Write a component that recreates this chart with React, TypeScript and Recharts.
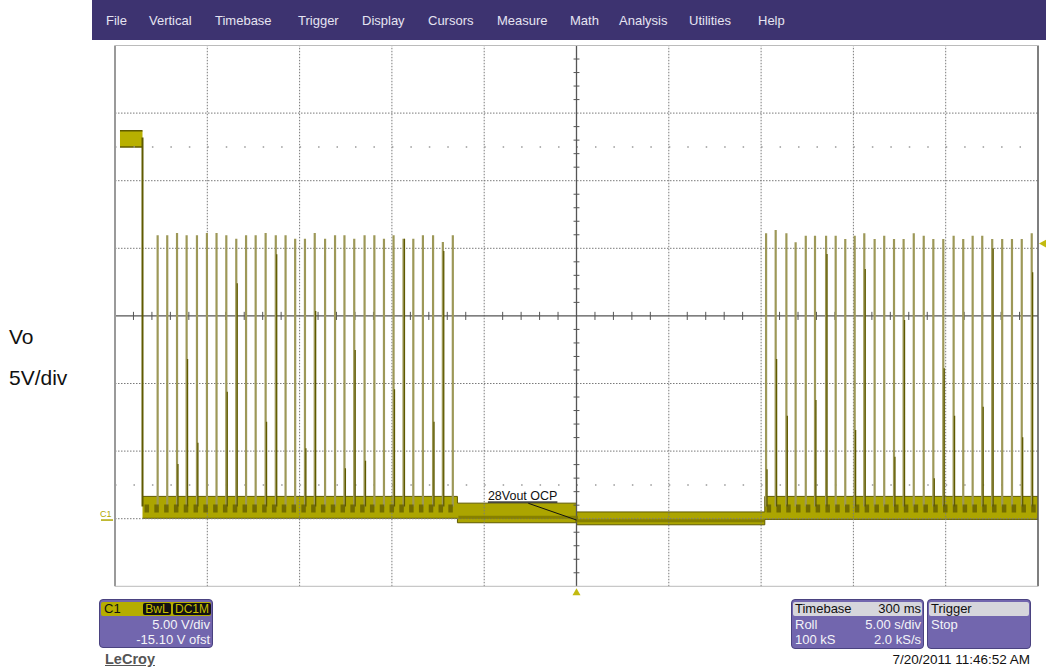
import React from 'react';
import { ComposedChart, Line, Area, XAxis, YAxis, ReferenceLine, ReferenceDot } from 'recharts';

// ---- scope settings (5 s/div, 5 V/div, -15.10 V offset) ----
const timeDomain = [0, 50];
const voltDomain = [-4.9, 35.1];
const gridTimes = [5, 10, 15, 20, 30, 35, 40, 45];
const gridVolts = [0.1, 5.1, 10.1, 20.1, 25.1, 30.1];
const centerTime = 25;
const centerVolt = 15.1;
const minorTimes = [1, 2, 3, 4, 6, 7, 8, 9, 11, 12, 13, 14, 16, 17, 18, 19, 21, 22, 23, 24, 26, 27, 28, 29, 31, 32, 33, 34, 36, 37, 38, 39, 41, 42, 43, 44, 46, 47, 48, 49];
const minorVolts = [-3.9, -2.9, -1.9, -0.9, 1.1, 2.1, 3.1, 4.1, 6.1, 7.1, 8.1, 9.1, 11.1, 12.1, 13.1, 14.1, 16.1, 17.1, 18.1, 19.1, 21.1, 22.1, 23.1, 24.1, 26.1, 27.1, 28.1, 29.1, 31.1, 32.1, 33.1, 34.1];
const dotRowVolts = [27.6, 2.6];

// ---- trace: initial 28 V level then drop ----
const highTimes = [0.27, 1.49];
const highLow = [27.6, 27.6];
const highHigh = [28.8, 28.8];
const dropTime = 1.49;
const dropFrom = 28.3;
const pulseBase = 1.0;

// ---- baseline noise band ----
const bandTimes = [1.49, 18.55, 18.55, 25.0, 25.0, 35.2, 35.2, 50];
const bandLow = [0.13, 0.13, -0.2, -0.2, -0.35, -0.35, 0.05, 0.05];
const bandHigh = [1.75, 1.75, 1.25, 1.25, 0.6, 0.6, 1.75, 1.75];
// darker ripple core inside the band (burst regions / OCP region)
const rippleTimes = [1.6, 18.5];
const rippleTimes2 = [35.3, 50];
const rippleLevel = 0.85;
const ocpCoreTimes = [18.6, 25.0, 25.0, 35.2];
const ocpCoreLevels = [0.2, 0.2, -0.05, -0.05];

// ---- hiccup pulses, first burst ----
const leftPulseTimes = [2.31, 2.83, 3.36, 3.88, 4.44, 4.98, 5.50, 6.03, 6.57, 7.10, 7.62, 8.16, 8.71, 9.24, 9.76, 10.29, 10.82, 11.38, 11.92, 12.43, 12.96, 13.52, 14.05, 14.57, 15.09, 15.63, 16.16, 16.68, 17.23, 17.76, 18.30];
const leftPulsePeaks = [21.06, 21.06, 21.23, 21.06, 21.06, 21.23, 21.23, 21.06, 20.81, 21.06, 21.06, 21.23, 21.06, 21.06, 20.81, 20.81, 21.23, 20.81, 21.06, 21.06, 20.81, 21.06, 21.06, 20.81, 21.06, 20.81, 20.81, 21.06, 21.06, 20.57, 21.06];
const leftDarkPeaks = [null, null, 4.15, 11.91, 5.72, null, null, 9.49, 17.51, null, null, 7.28, 19.66, null, null, 5.31, 15.46, null, null, 3.84, 12.58, 4.39, null, null, 9.67, 20.81, null, null, 7.28, 19.9, null];

// ---- hiccup pulses, second burst ----
const rightPulseTimes = [35.27, 35.79, 36.37, 36.87, 37.42, 37.92, 38.52, 39.04, 39.56, 40.07, 40.59, 41.15, 41.67, 42.20, 42.72, 43.27, 43.81, 44.33, 44.87, 45.43, 45.95, 46.46, 46.98, 47.52, 48.06, 48.59, 49.12, 49.66];
const rightPulsePeaks = [21.21, 21.45, 21.21, 20.54, 21.03, 21.03, 21.03, 21.03, 20.79, 21.03, 21.21, 20.79, 21.03, 20.79, 20.79, 21.21, 21.03, 20.79, 20.79, 21.03, 20.79, 21.03, 21.03, 20.79, 20.79, 20.79, 20.79, 21.21];
const rightDarkPeaks = [3.75, 11.91, 7.72, null, null, 8.88, 19.68, null, null, 6.66, 18.57, null, null, 4.69, 14.80, null, null, 3.09, 11.22, 7.72, null, null, 8.38, 20.1, null, null, 6.12, 18.32];

// ---- annotation / markers ----
const annotText = '28Vout OCP';
const annotAt = { t: 20.2, v: 1.45 };
const annotFrom = { t: 22.39, v: 1.24 };
const annotTo = { t: 25.0, v: 0.0 };
const triggerLevel = 20.45;
const groundLevel = 0;

const menuItems = ['File', 'Vertical', 'Timebase', 'Trigger', 'Display', 'Cursors', 'Measure', 'Math', 'Analysis', 'Utilities', 'Help'];
const menuX = [106, 149, 215, 298, 362, 428, 497, 570, 619, 689, 758];

const FONT = '"Liberation Sans", Arial, sans-serif';
const TRACE = '#aca500';
const TRACE_DARK = '#5f5a00';
const TRACE_LIGHT = '#9d9858';
const PURPLE_BAR = '#3d3370';
const PURPLE_BOX = '#7266ae';

type Pt = { t: number; v: number | null };

function spikes(times: number[], peaks: (number | null)[], shift: number): Pt[] {
  const out: Pt[] = [];
  times.forEach((t, i) => {
    const p = peaks[i];
    if (p == null) return;
    out.push({ t: t + shift, v: pulseBase }, { t: t + shift, v: p }, { t: t + shift, v: pulseBase }, { t: t + shift, v: null });
  });
  return out;
}

const lightData = [...spikes(leftPulseTimes, leftPulsePeaks, 0), ...spikes(rightPulseTimes, rightPulsePeaks, 0)];
const darkData = [...spikes(leftPulseTimes, leftDarkPeaks, 0.05), ...spikes(rightPulseTimes, rightDarkPeaks, 0.05)];
const bandData = bandTimes.map((t, i) => ({ t, r: [bandLow[i], bandHigh[i]] }));
const highData = highTimes.map((t, i) => ({ t, r: [highLow[i], highHigh[i]] }));
const dropData = [{ t: dropTime, v: dropFrom }, { t: dropTime, v: pulseBase }];
const rippleData = [
  ...rippleTimes.map((t) => ({ t, v: rippleLevel as number | null })),
  { t: rippleTimes[1], v: null },
  ...rippleTimes2.map((t) => ({ t, v: rippleLevel as number | null })),
];
const ocpCoreData = ocpCoreTimes.map((t, i) => ({ t, v: ocpCoreLevels[i] }));

const MARGIN = { top: 45.5, right: 8, bottom: 85.7, left: 115 };

const txt = (s: React.CSSProperties): React.CSSProperties => ({ position: 'absolute', fontFamily: FONT, whiteSpace: 'nowrap', ...s });

export default function App() {
  return (
    <div style={{ position: 'absolute', left: 0, top: 0, width: 1046, height: 672, background: '#fff', overflow: 'hidden' }}>
      {/* menu bar */}
      <div style={{ position: 'absolute', left: 92, top: 0, width: 954, height: 40, background: PURPLE_BAR }} />
      {menuItems.map((m, i) => (
        <div key={m} style={txt({ left: menuX[i], top: 13, fontSize: 13, color: '#e6e4f2' })}>{m}</div>
      ))}

      <div style={{ position: 'absolute', left: 0, top: 0 }}>
        <ComposedChart width={1046} height={672} margin={MARGIN}>
          <XAxis type="number" dataKey="t" domain={timeDomain} hide allowDataOverflow />
          <YAxis type="number" domain={voltDomain} hide width={0} allowDataOverflow />
          {gridTimes.map((t) => (
            <ReferenceLine key={'gx' + t} x={t} stroke="#7a7a7a" strokeDasharray="1.5 1.5" />
          ))}
          {gridVolts.map((v) => (
            <ReferenceLine key={'gy' + v} y={v} stroke="#7a7a7a" strokeDasharray="1.5 1.5" />
          ))}
          {dotRowVolts.map((v) => (
            <ReferenceLine key={'dr' + v} y={v} stroke="#999" strokeWidth={1.5} strokeDasharray="1.5 16.96" />
          ))}
          <ReferenceLine x={centerTime} stroke="#555" strokeWidth={1.3} />
          <ReferenceLine y={centerVolt} stroke="#555" strokeWidth={1.3} />
          {minorTimes.map((t) => (
            <ReferenceLine key={'mt' + t} segment={[{ x: t, y: centerVolt - 0.3 }, { x: t, y: centerVolt + 0.3 }]} stroke="#555" />
          ))}
          {minorVolts.map((v) => (
            <ReferenceLine key={'mv' + v} segment={[{ x: centerTime - 0.16, y: v }, { x: centerTime + 0.16, y: v }]} stroke="#555" />
          ))}
          <ReferenceLine x={timeDomain[0]} stroke="#9a9a9a" strokeWidth={2} />
          <ReferenceLine x={timeDomain[1]} stroke="#555" strokeWidth={1.5} />
          <ReferenceLine y={voltDomain[0]} stroke="#bbb" />
          <ReferenceLine y={voltDomain[1]} stroke="#bbb" />

          <Line data={lightData} dataKey="v" stroke={TRACE_LIGHT} strokeWidth={2.2} dot={false} isAnimationActive={false} connectNulls={false} />
          <Line data={darkData} dataKey="v" stroke={TRACE_DARK} strokeWidth={1.3} dot={false} isAnimationActive={false} connectNulls={false} />
          <Line data={dropData} dataKey="v" stroke={TRACE_DARK} strokeWidth={2} dot={false} isAnimationActive={false} />
          <Area data={bandData} dataKey="r" type="linear" fill={TRACE} fillOpacity={1} stroke={TRACE_DARK} strokeWidth={1} isAnimationActive={false} />
          <Line data={rippleData} dataKey="v" stroke={TRACE_DARK} strokeOpacity={0.75} strokeWidth={8} strokeDasharray="4.5 5.3" dot={false} isAnimationActive={false} connectNulls={false} />
          <Line data={ocpCoreData} dataKey="v" stroke="#7d7700" strokeOpacity={0.8} strokeWidth={3} dot={false} isAnimationActive={false} />
          <Area data={highData} dataKey="r" type="linear" fill="#b8b000" fillOpacity={1} stroke={TRACE_DARK} strokeWidth={1.5} isAnimationActive={false} />

          <ReferenceLine segment={[{ x: annotFrom.t, y: annotFrom.v }, { x: annotTo.t, y: annotTo.v }]} stroke="#111" />
          <ReferenceDot
            x={annotAt.t}
            y={annotAt.v}
            ifOverflow="visible"
            shape={(p: any) => (
              <text x={p.cx} y={p.cy} fontSize={12.5} fontFamily={FONT} fill="#111" textDecoration="underline">{annotText}</text>
            )}
          />
          <ReferenceDot
            x={timeDomain[1]}
            y={triggerLevel}
            ifOverflow="visible"
            shape={(p: any) => (
              <polygon points={`${p.cx + 1},${p.cy} ${p.cx + 9},${p.cy - 4.5} ${p.cx + 9},${p.cy + 4.5}`} fill="#c2ba10" />
            )}
          />
          <ReferenceDot
            x={centerTime}
            y={voltDomain[0]}
            ifOverflow="visible"
            shape={(p: any) => (
              <polygon points={`${p.cx},${p.cy + 2} ${p.cx - 4},${p.cy + 9} ${p.cx + 4},${p.cy + 9}`} fill="#c2ba10" />
            )}
          />
          <ReferenceDot
            x={timeDomain[0]}
            y={groundLevel}
            ifOverflow="visible"
            shape={(p: any) => (
              <g>
                <text x={p.cx - 15} y={p.cy - 3} fontSize={9} fontFamily={FONT} fill="#b0a800">C1</text>
                <line x1={p.cx - 14} x2={p.cx - 2} y1={p.cy} y2={p.cy} stroke="#b0a800" strokeWidth={1.5} />
              </g>
            )}
          />
        </ComposedChart>
      </div>

      {/* side label */}
      <div style={txt({ left: 9, top: 325, fontSize: 21, color: '#111' })}>Vo</div>
      <div style={txt({ left: 9, top: 366, fontSize: 21, color: '#111' })}>5V/div</div>

      {/* C1 box */}
      <div style={{ position: 'absolute', left: 99, top: 599, width: 114, height: 49, background: PURPLE_BOX, borderRadius: 4, border: '1px solid #4a4280', boxSizing: 'border-box', overflow: 'hidden' }}>
        <div style={{ position: 'absolute', left: 1, top: 2, width: 110, height: 14, background: '#b5ad00', borderRadius: 2 }} />
        <div style={txt({ left: 4, top: 1, fontSize: 13, color: '#111' })}>C1</div>
        <div style={txt({ left: 43, top: 3, height: 12, width: 28, background: '#111', color: '#c8c000', fontSize: 12, lineHeight: '12px', textAlign: 'center', borderRadius: 2 })}>BwL</div>
        <div style={txt({ left: 73, top: 3, height: 12, width: 38, background: '#111', color: '#c8c000', fontSize: 12, lineHeight: '12px', textAlign: 'center', borderRadius: 2 })}>DC1M</div>
        <div style={txt({ right: 2, top: 17, fontSize: 13, color: '#f4f4f8' })}>5.00 V/div</div>
        <div style={txt({ right: 2, top: 32, fontSize: 13, color: '#f4f4f8' })}>-15.10 V ofst</div>
      </div>
      <div style={txt({ left: 105, top: 651, fontSize: 14.5, fontWeight: 'bold', color: '#555', textDecoration: 'underline' })}>LeCroy</div>

      {/* Timebase box */}
      <div style={{ position: 'absolute', left: 791, top: 599, width: 133, height: 50, background: PURPLE_BOX, borderRadius: 4, border: '1px solid #4a4280', boxSizing: 'border-box', overflow: 'hidden' }}>
        <div style={{ position: 'absolute', left: 1, top: 2, width: 129, height: 14, background: '#d6d6dc', borderRadius: 2 }} />
        <div style={txt({ left: 3, top: 1, fontSize: 13, color: '#111' })}>Timebase</div>
        <div style={txt({ right: 2, top: 1, fontSize: 13, color: '#111' })}>300 ms</div>
        <div style={txt({ left: 3, top: 17, fontSize: 13, color: '#f4f4f8' })}>Roll</div>
        <div style={txt({ right: 2, top: 17, fontSize: 13, color: '#f4f4f8' })}>5.00 s/div</div>
        <div style={txt({ left: 3, top: 32, fontSize: 13, color: '#f4f4f8' })}>100 kS</div>
        <div style={txt({ right: 2, top: 32, fontSize: 13, color: '#f4f4f8' })}>2.0 kS/s</div>
      </div>
      {/* Trigger box */}
      <div style={{ position: 'absolute', left: 927, top: 599, width: 104, height: 50, background: PURPLE_BOX, borderRadius: 4, border: '1px solid #4a4280', boxSizing: 'border-box', overflow: 'hidden' }}>
        <div style={{ position: 'absolute', left: 1, top: 2, width: 100, height: 14, background: '#d6d6dc', borderRadius: 2 }} />
        <div style={txt({ left: 3, top: 1, fontSize: 13, color: '#111' })}>Trigger</div>
        <div style={txt({ left: 3, top: 17, fontSize: 13, color: '#f4f4f8' })}>Stop</div>
      </div>
      <div style={txt({ right: 16, top: 652, fontSize: 13.5, color: '#111' })}>7/20/2011 11:46:52 AM</div>
    </div>
  );
}
